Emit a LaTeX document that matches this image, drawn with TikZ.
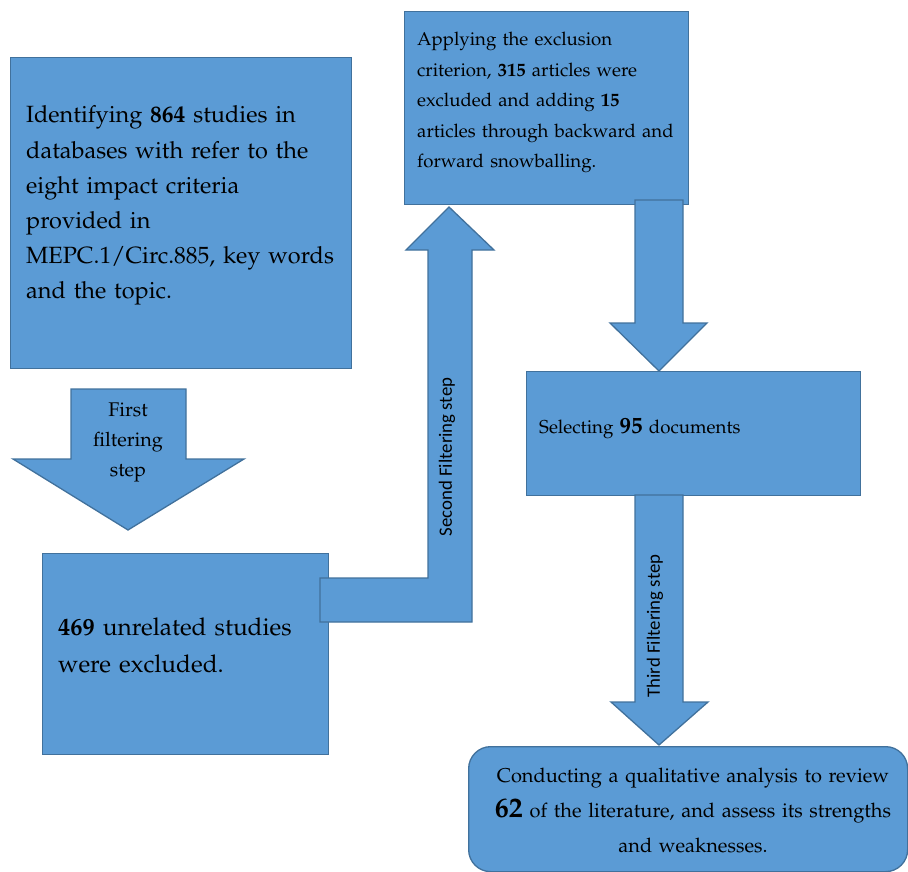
\documentclass[tikz,border=0pt]{standalone}
\usepackage{fontspec}
\usepackage[T1]{fontenc}
\usepackage{mathpazo}
\newfontfamily\carlito{Carlito}
\definecolor{boxfill}{HTML}{5B9BD5}
\definecolor{boxedge}{HTML}{41719C}
\begin{document}
\begin{tikzpicture}[x=1pt,y=-1pt,
  blk/.style={fill=boxfill,draw=boxedge,line width=1.3pt,line join=miter},
  boxnode/.style={blk,anchor=north west,inner sep=0pt},
  txt/.style={anchor=base west,inner sep=0pt,align=left,text=black},
  ctxt/.style={anchor=base,inner sep=0pt,align=center,text=black},
  rot/.style={rotate=90,inner sep=0pt,text=black,font=\carlito\fontsize{18.8}{20}\selectfont}]
\useasboundingbox (0,0) rectangle (908,872);
% boxes
\node[boxnode,minimum width=341pt,minimum height=311pt] (b1) at (10,57) {};
\node[boxnode,minimum width=284pt,minimum height=193pt] (b2) at (404,11) {};
\node[boxnode,minimum width=334pt,minimum height=124pt] (b3) at (526,371) {};
\node[boxnode,minimum width=286pt,minimum height=201pt] (b4) at (42,553) {};
\node[boxnode,rounded corners=22pt,minimum width=439pt,minimum height=125pt] (b5) at (468,746) {};
% block arrows
\draw[blk] (71,389) -- (186,389) -- (186,459) -- (244,459) -- (128,530) -- (13,459) -- (71,459) -- cycle;
\draw[blk] (320,578) -- (428,578) -- (428,250) -- (406,250) -- (449,207) -- (494,250) -- (472,250) -- (472,622) -- (320,622) -- cycle;
\draw[blk] (635,200) -- (683,200) -- (683,323) -- (707,323) -- (659,371) -- (610,323) -- (635,323) -- cycle;
\draw[blk] (635,495) -- (683,495) -- (683,702) -- (708,702) -- (659,745) -- (611,702) -- (635,702) -- cycle;
% texts
\node[txt,text width=340pt,font=\fontsize{23.5}{35.2}\selectfont] (t1) at (26,123)
 {Identifying \textbf{864} studies in\\ databases with refer to the\\ eight impact criteria\\ provided in\\ MEPC.1/Circ.885, key words\\ and the topic.};
\node[txt,text width=290pt,font=\fontsize{18.6}{30.5}\selectfont] (t2) at (417,46)
 {Applying the exclusion\\ criterion, \textbf{315} articles were\\ excluded and adding \textbf{15}\\ articles through backward and\\ forward snowballing.};
\node[txt,text width=320pt,font=\fontsize{18.7}{20}\selectfont] (t3) at (539,433)
 {Selecting {\fontsize{23}{23}\selectfont\textbf{95}} documents};
\node[txt,text width=280pt,font=\fontsize{24.4}{37}\selectfont] (t4) at (58,635)
 {\textbf{469} unrelated studies\\ were excluded.};
\node[ctxt,text width=436pt,font=\fontsize{20}{35}\selectfont] (t5) at (693,782)
 {Conducting a qualitative analysis to review\\ {\fontsize{28}{28}\selectfont\textbf{62}} of the literature, and assess its strengths\\ and weaknesses.};
\node[ctxt,text width=120pt,font=\fontsize{19.8}{30}\selectfont] (s1) at (128,416)
 {First\\ filtering\\ step};
\node[rot] (s2) at (447,457) {Second Filtering step};
\node[rot] (s3) at (655,626) {Third Filtering step};
\end{tikzpicture}
\end{document}
